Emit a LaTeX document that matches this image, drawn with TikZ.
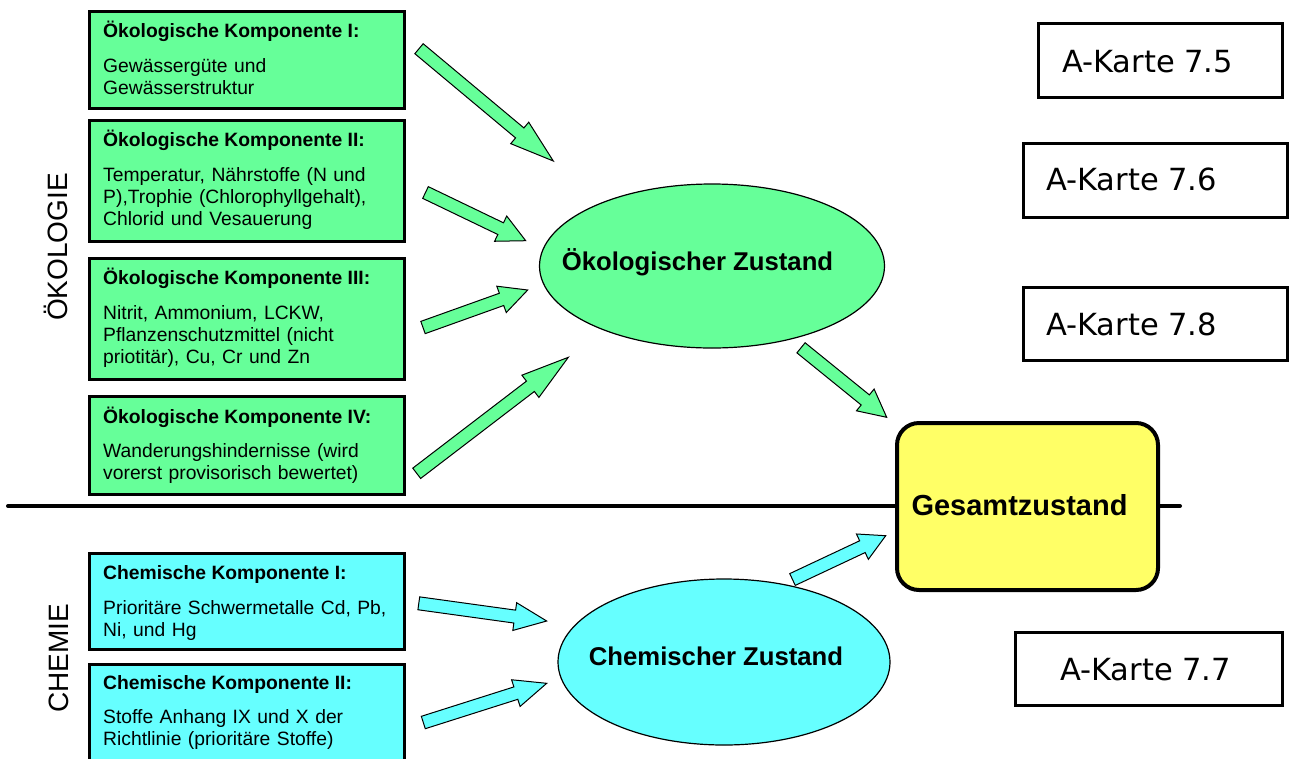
\documentclass[tikz,border=0pt]{standalone}
\usepackage{fontspec}
\setmainfont{Liberation Sans}
\newfontfamily\kartefont{DejaVu Sans}
\usetikzlibrary{shapes.geometric,calc}
\definecolor{ecogreen}{HTML}{66FF99}
\definecolor{chemcyan}{HTML}{66FFFF}
\definecolor{totyellow}{HTML}{FFFF66}

\newcommand{\blockarrow}[3]{%
  \coordinate (#2-hb) at ($(#2)!0.75!(#3)$);
  \draw[#1] ($(#2)!6.5pt!90:(#3)$) -- ($(#2-hb)!6.5pt!90:(#3)$) -- ($(#2-hb)!14pt!90:(#3)$)
     -- (#3) -- ($(#2-hb)!14pt!-90:(#3)$) -- ($(#2-hb)!6.5pt!-90:(#3)$) -- ($(#2)!6.5pt!-90:(#3)$) -- cycle;}

\tikzset{
  ebox/.style={draw, line width=3.2pt, fill=ecogreen, minimum width=315pt, anchor=north west, inner sep=0pt},
  cbox/.style={ebox, fill=chemcyan},
  hd/.style={anchor=base west, inner sep=0pt, font=\bfseries\fontsize{19.3}{22}\selectfont},
  bd/.style={anchor=base west, inner sep=0pt, align=left, text width=298pt, font=\fontsize{19.3}{22}\selectfont},
  kbox/.style={draw, line width=3pt, fill=white, inner sep=0pt},
  ktext/.style={anchor=base west, inner sep=0pt, font=\kartefont\fontsize{30.5}{34}\selectfont},
  side/.style={anchor=base, rotate=90, inner sep=0pt, font=\fontsize{28}{32}\selectfont},
  zell/.style={ellipse, draw, line width=1.2pt, inner sep=0pt},
  ztext/.style={anchor=base, inner sep=0pt, font=\bfseries\fontsize{25.7}{30}\selectfont},
  garrow/.style={draw=black, line width=1pt, fill=ecogreen, line join=miter},
  carrow/.style={garrow, fill=chemcyan},
}

\begin{document}
\begin{tikzpicture}[x=1pt, y=-1pt]
\useasboundingbox (0,0) rectangle (1295,758);

% side labels
\node[side] (lo) at (67,247) {ÖKOLOGIE};
\node[side] (lc) at (68,658) {CHEMIE};

% ecological component boxes
\node[ebox, minimum height=97pt] (e1) at (88,10) {};
\node[hd] (e1h) at (103,37) {Ökologische Komponente I:};
\node[bd] (e1b) at (103,72) {Gewässergüte und\\Gewässerstruktur};

\node[ebox, minimum height=121pt] (e2) at (88,119) {};
\node[hd] (e2h) at (103,146) {Ökologische Komponente II:};
\node[bd] (e2b) at (103,181) {Temperatur, Nährstoffe (N und\\P),Trophie (Chlorophyllgehalt),\\Chlorid und Vesauerung};

\node[ebox, minimum height=121pt] (e3) at (88,257) {};
\node[hd] (e3h) at (103,284) {Ökologische Komponente III:};
\node[bd] (e3b) at (103,319) {Nitrit, Ammonium, LCKW,\\Pflanzenschutzmittel (nicht\\priotitär), Cu, Cr und Zn};

\node[ebox, minimum height=98pt] (e4) at (88,395) {};
\node[hd] (e4h) at (103,423) {Ökologische Komponente IV:};
\node[bd] (e4b) at (103,457) {Wanderungshindernisse (wird\\vorerst provisorisch bewertet)};

% chemical component boxes
\node[cbox, minimum height=96pt] (c1) at (88,552) {};
\node[hd] (c1h) at (103,579) {Chemische Komponente I:};
\node[bd] (c1b) at (103,614) {Prioritäre Schwermetalle Cd, Pb,\\Ni, und Hg};

\node[cbox, minimum height=110pt] (c2) at (88,663) {};
\node[hd] (c2h) at (103,689) {Chemische Komponente II:};
\node[bd] (c2b) at (103,723) {Stoffe Anhang IX und X der\\Richtlinie (prioritäre Stoffe)};

% divider line
\coordinate (ll) at (8,506);
\coordinate (lr) at (1180,506);
\draw[line width=4pt, line cap=round] (ll) -- (lr);

% state ellipses
\node[zell, fill=ecogreen, minimum width=345pt, minimum height=164pt] (ez) at (712,266) {};
\node[ztext] (ezt) at (697.5,270) {Ökologischer Zustand};
\node[zell, fill=chemcyan, minimum width=332pt, minimum height=166pt] (cz) at (724,662) {};
\node[ztext] (czt) at (716,665) {Chemischer Zustand};

% overall state
\node[draw, line width=4pt, rounded corners=22pt, fill=totyellow, minimum width=261pt, minimum height=167pt, inner sep=0pt] (gz) at (1027.5,506.5) {};
\node[anchor=base, inner sep=0pt, font=\bfseries\fontsize{29}{34}\selectfont] (gzt) at (1019.5,515) {Gesamtzustand};

% A-Karte boxes
\node[kbox, minimum width=244pt, minimum height=74pt] (k75) at (1160,60) {};
\node[ktext] (k75t) at (1062,72) {A-Karte 7.5};
\node[kbox, minimum width=264pt, minimum height=74pt] (k76) at (1155,180) {};
\node[ktext] (k76t) at (1046,190) {A-Karte 7.6};
\node[kbox, minimum width=264pt, minimum height=73pt] (k78) at (1155,323.5) {};
\node[ktext] (k78t) at (1046,335) {A-Karte 7.8};
\node[kbox, minimum width=267pt, minimum height=73pt] (k77) at (1148.5,668.5) {};
\node[ktext] (k77t) at (1060,680) {A-Karte 7.7};

% arrow coordinates
\coordinate (a1t) at (419,48.7);   \coordinate (a1h) at (553.3,161);
\coordinate (a2t) at (425.5,192.5); \coordinate (a2h) at (525.7,240.7);
\coordinate (a3t) at (423,327.5);  \coordinate (a3h) at (527.7,290);
\coordinate (a4t) at (416.7,473.3); \coordinate (a4h) at (568.3,357.3);
\coordinate (a5t) at (801,347.8);  \coordinate (a5h) at (886.7,417.3);
\coordinate (a6t) at (792.5,579.5); \coordinate (a6h) at (885.7,535.7);
\coordinate (b1t) at (418.8,603.3); \coordinate (b1h) at (546.7,621);
\coordinate (b2t) at (423.3,722.5); \coordinate (b2h) at (546.7,683.3);

\blockarrow{garrow}{a1t}{a1h}
\blockarrow{garrow}{a2t}{a2h}
\blockarrow{garrow}{a3t}{a3h}
\blockarrow{garrow}{a4t}{a4h}
\blockarrow{garrow}{a5t}{a5h}
\blockarrow{carrow}{a6t}{a6h}
\blockarrow{carrow}{b1t}{b1h}
\blockarrow{carrow}{b2t}{b2h}
\end{tikzpicture}
\end{document}
